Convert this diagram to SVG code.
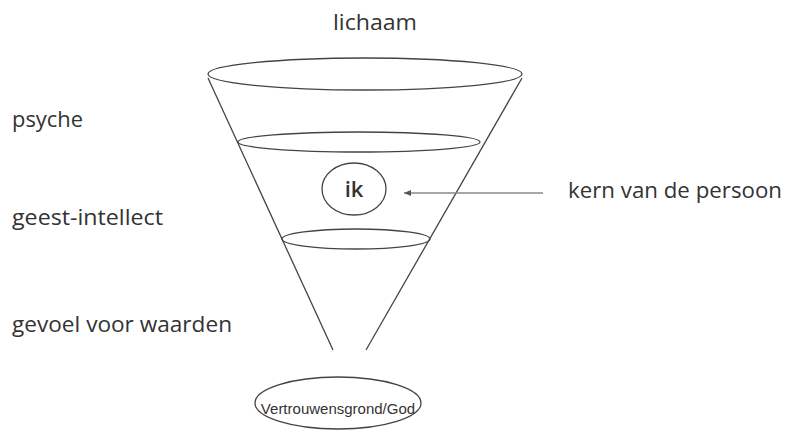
<svg xmlns="http://www.w3.org/2000/svg" width="787" height="441" viewBox="0 0 787 441">
<style>
.lbl{font-family:"Open Sans","Liberation Sans",sans-serif;font-size:22px;fill:#333}
.shp{fill:none;stroke:#444;stroke-width:1.3}
.con{stroke:#888;stroke-width:1.5;fill:none}
</style>
<defs>
<marker id="ah" markerWidth="8" markerHeight="8" refX="1" refY="4" orient="auto" markerUnits="userSpaceOnUse">
<path d="M8,1 L1,4 L8,7 Z" fill="#555"/>
</marker>
</defs>
<rect width="787" height="441" fill="#fff"/>
<g id="cone">
<line class="shp" x1="208" y1="78" x2="333" y2="350"/>
<line class="shp" x1="522" y1="78" x2="366" y2="350"/>
</g>
<g id="lichaam">
<ellipse class="shp" cx="365" cy="74" rx="157" ry="16"/>
<text class="lbl" x="333" y="30" textLength="84" lengthAdjust="spacingAndGlyphs">lichaam</text>
</g>
<g id="psyche">
<ellipse class="shp" cx="359" cy="142" rx="121" ry="10"/>
<text class="lbl" x="12" y="127" textLength="71" lengthAdjust="spacingAndGlyphs">psyche</text>
</g>
<g id="geest">
<ellipse class="shp" cx="356" cy="239" rx="74" ry="10"/>
<text class="lbl" x="12" y="225" textLength="151" lengthAdjust="spacingAndGlyphs">geest-intellect</text>
</g>
<g id="gevoel">
<text class="lbl" x="12" y="332" textLength="220" lengthAdjust="spacingAndGlyphs">gevoel voor waarden</text>
</g>
<g id="ik">
<ellipse class="shp" cx="354" cy="189" rx="32" ry="26"/>
<text class="lbl" x="354" y="197" font-size="20" font-weight="600" text-anchor="middle">ik</text>
</g>
<g id="kern">
<text class="lbl" x="568" y="198" textLength="214" lengthAdjust="spacingAndGlyphs">kern van de persoon</text>
</g>
<g id="god">
<ellipse class="shp" cx="338" cy="403" rx="83" ry="26"/>
<text x="338" y="414" text-anchor="middle" style="font-family:'Liberation Sans',Arial,sans-serif;font-size:15px;fill:#333">Vertrouwensgrond/God</text>
</g>
<g id="connectors">
<line class="con" x1="404" y1="193" x2="543" y2="193" marker-start="url(#ah)"/>
</g>
</svg>
